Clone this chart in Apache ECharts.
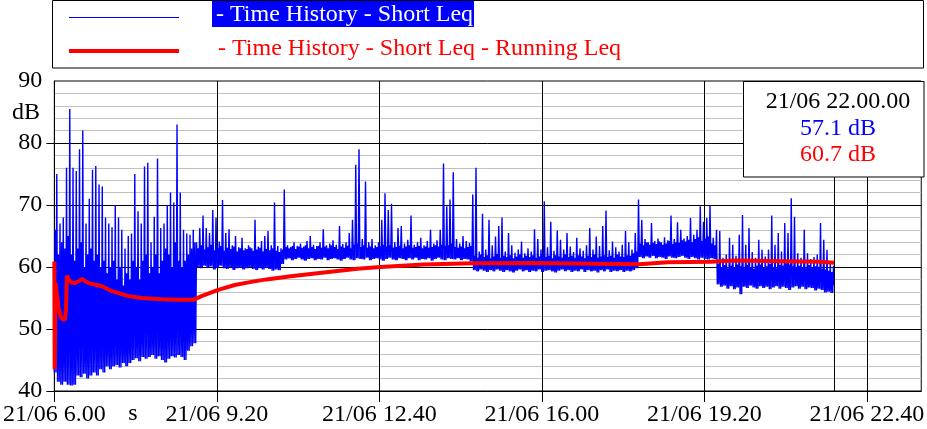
<!DOCTYPE html>
<html><head><meta charset="utf-8">
<script src="https://cdn.jsdelivr.net/npm/echarts@6/dist/echarts.min.js"></script>
<style>html,body{margin:0;padding:0;background:#fff}#c{width:927px;height:429px}</style>
</head><body><div id="c"></div>
<script>
// ---- data (minutes since 21/06 6.00), one entry per 4-minute bucket ----
const bucketMinutes = 4;
// lowest level in each bucket
const blueLow = [
43,41.5,41,41.5,41,40.9,41,42.5,42.2,42.8,
42,42.5,43,42.5,43.5,43,44,43.5,44,44.2,
43.8,44.5,44,44.5,45,45.3,44.8,45.5,45.2,45.5,
45.8,45.2,45.6,45,44.6,45.2,45.6,45.4,45.8,45.5,
45,46.5,47.2,47.7,
60.0,59.8,60.2,59.9,60.1,59.6,59.9,60.2,59.8,59.7,
60.0,59.5,59.8,59.9,59.6,59.8,60.0,59.7,59.5,59.8,
59.6,59.9,59.7,59.4,59.6,59.5,60.5,
61.2,61.4,61.1,61.3,61.5,61.2,61.0,61.3,61.4,61.1,
61.3,61.2,61.5,61.1,61.3,61.4,61.2,61.0,61.3,61.5,
61.2,61.1,61.4,61.3,61.2,61.5,61.1,61.3,61.4,61.2,
61.0,61.3,61.5,61.2,61.1,61.4,61.3,61.1,61.4,61.2,
61.5,61.1,61.3,61.2,61.4,61.0,61.3,61.5,61.2,61.1,
61.4,61.3,61.2,61.4,61.1,61.3,61.2,60.9,
59.5,59.3,59.6,59.4,59.2,59.5,59.3,59.6,59.4,59.2,
59.5,59.3,59.1,59.4,59.6,59.3,59.5,59.2,59.4,59.3,
59.6,59.2,59.4,59.5,59.3,59.1,59.4,59.6,59.3,59.5,
59.2,59.4,59.3,59.6,59.2,59.5,59.3,59.4,59.1,59.5,
59.3,59.6,59.2,59.4,59.3,59.5,59.2,59.4,59.3,59.5,59.8,
61.6,61.4,61.7,61.5,61.8,61.4,61.6,61.5,61.3,61.7,
61.5,61.4,61.6,61.8,61.5,61.3,61.6,61.4,61.2,61.5,
61.3,61.2,61.4,61.3,57.2,
56.8,57.0,56.5,56.9,56.4,56.7,55.6,56.8,56.6,57.0,
56.7,56.5,56.9,56.6,56.8,56.4,56.7,56.9,56.5,56.8,
56.6,56.3,56.7,56.9,56.5,56.8,56.4,56.7,56.6,56.2,
56.5,56.3,55.9,56.0,55.8
];
// top of the dense band in each bucket
const blueTop = [
66,62,64,63,65,62,61,63,64,60,
62,63,61,62,60,61,59,60,61,58,
60,57,59,58,61,60,58,61,62,59,
60,62,59,61,63,62,60,64,61,60,
61,62,63,64,
63,63.5,62.8,63.2,63.6,62.7,63,63.4,62.6,63.1,
62.9,63.3,62.5,63,62.7,62.9,63.2,62.6,62.8,63.1,
62.5,62.9,62.7,63,62.6,62.4,62.8,
63.2,63.0,63.4,62.9,63.3,63.1,63.5,63.0,63.2,62.9,
63.4,63.1,63.3,63.0,63.5,63.2,62.9,63.3,63.1,63.4,
63.0,63.6,63.8,63.2,63.5,63.1,63.3,63.0,63.2,63.4,
63.6,63.3,63.5,63.1,63.2,63.4,63.0,63.3,63.5,63.1,
63.2,63.4,63.0,63.3,63.1,63.2,63.5,63.3,63.6,63.4,
63.5,63.8,63.2,63.1,63.3,63.0,63.2,63.4,
61.8,61.5,62.0,61.6,61.9,61.4,61.7,62.1,61.5,61.8,
61.6,61.9,61.4,61.7,62.0,61.5,61.8,61.6,61.9,61.5,
61.7,62.0,61.6,61.8,61.4,61.9,61.7,61.5,62.0,61.6,
61.8,61.5,61.9,61.7,61.4,61.8,61.6,62.0,61.5,61.7,
61.9,61.6,61.8,61.5,62.0,61.7,61.6,61.9,61.8,62.2,62.5,
63.8,63.5,64.0,63.6,63.9,63.7,64.1,63.6,63.8,64.2,
63.7,64.0,63.9,64.3,64.1,64.4,64.0,64.5,64.8,64.2,
64.6,64.9,63.8,63.5,60.5,
60.0,60.3,59.8,60.2,59.9,60.4,60.1,59.8,60.3,60.0,
59.7,60.2,60.4,59.9,60.1,60.5,60.0,59.8,60.3,60.2,
60.6,60.4,60.1,59.9,60.2,60.0,59.8,60.3,59.9,60.1,
60.0,59.7,59.6,59.4,59.2
];
// highest peak in each bucket
const blueHigh = [
75,67,68,76,85.5,76,75.5,79,82,67,
71,75.7,76.3,73.3,73,68,67,66.4,70,68,
66,63,65,65.4,75,69,67,76.2,76.8,64,
68.1,77.5,66.3,67,70,72,70.4,83,72,66,
65.4,65.2,66,64,
66.3,68.3,66.3,65.5,69.2,68,64.1,70.8,65.5,66.1,
63.5,65,63.2,64.7,63,63.5,63,67.6,63.3,64.2,
65,65.8,63.5,70.4,63.4,63,72.5,
63.5,63.2,64,63.4,63.8,63.3,64.2,65,63.6,63.4,
64,66.1,63.5,63.8,64.3,63.6,66.6,63.7,64,65.5,
67.6,76.5,79,64.5,73.8,64,64.5,63.5,64,67.6,
71.9,69.2,70.2,64,66.3,66.6,63.8,64.4,68.3,63.6,
64,64.7,63.5,64.2,66,63.8,64.3,66,76.7,69.8,
70.9,75.3,64.5,63.8,65,64.2,63.9,71.7,
76,62.5,68.6,62.8,67.6,63.5,64.9,66.6,68,62.5,
65.5,63.5,62.3,62.8,64.1,62.2,63,62.5,66.1,64.5,
62.8,70.6,63.2,67.3,62.6,65.9,64.4,62.8,65.5,63.3,
62.4,64.7,63,62.6,63.5,66.3,62.8,64.9,63.4,66.6,
69.1,62.7,64.1,63.2,62.5,63.6,65.8,64,62.8,65.5,70.9,
67.6,64.5,64,67.1,64.2,64.6,64,64.8,64.3,68.3,
64.5,67.2,66,64.6,65,67.9,65.2,66,69.8,67.3,
67.9,69.9,64.7,66,65.8,
61.5,62,64.7,63.6,61.8,65.2,68.4,63.6,66.3,62.4,
61.5,64.4,62.8,61.7,62.8,68.3,63.6,65.5,62.5,67.1,
65.5,71.1,68.1,62.2,61.5,66,62.2,61.3,61.6,62,
67.1,64.4,62.8,60.5,60.2
];
const blueEnd = [960, 57.1];

const redTimes = [0,0.4,1.6,3.3,5.3,7.7,10,12.9,14.3,15.5,17.6,21,24.5,30.2,34.3,38,42.4,58.8,71,91.4,107.7,132.2,156.7,171,181.2,201.6,222,242.4,261,291,332,373,401.5,454.5,515.7,588,589,720,721,755,756,808,809,838,839,942,943,960];
const redValues = [60.9,43.5,57.4,55.5,53.5,52.0,51.6,51.5,53,58.6,58.0,57.5,57.4,57.7,58.1,57.7,57.4,56.9,56.1,55.3,55.0,54.8,54.7,54.7,55.3,56.3,57.1,57.6,58.0,58.5,59.1,59.7,60.0,60.4,60.6,60.65,60.45,60.45,60.7,60.75,60.85,60.85,61.05,61.05,60.85,60.85,60.65,60.7];

const xTickValues = [0,200,400,600,800,1000];
const xTickLabels = ['21/06 6.00','21/06 9.20','21/06 12.40','21/06 16.00','21/06 19.20','21/06 22.40'];
const yTickValues = [40,50,60,70,80];
const yAxisUnit = 'dB';
const xAxisUnit = 's';
const cursorMinute = 960;
const cursorTime = '21/06 22.00.00';
const cursorBlue = '57.1 dB';
const cursorRed = '60.7 dB';
const seriesNames = ['- Time History - Short Leq', '- Time History - Short Leq - Running Leq'];

// ---- build ----
const blueData = [];
const q = bucketMinutes / 4;
for (let i = 0; i < blueLow.length; i++) {
  const t = i * bucketMinutes;
  blueData.push([t, blueLow[i]]);
  blueData.push([t + q, blueTop[i]]);
  blueData.push([t + 2 * q, blueLow[i]]);
  blueData.push([t + 3 * q, blueHigh[i]]);
}
blueData.push(blueEnd);
const redData = redTimes.map((t, i) => [t, redValues[i]]);

const FONT = '"Liberation Serif","Times New Roman",serif';
const chart = echarts.init(document.getElementById('c'), null, {renderer: 'canvas'});
chart.setOption({
  animation: false,
  backgroundColor: '#fff',
  grid: {left: 52, right: 3, top: 81, bottom: 38, show: true, borderColor: '#000', borderWidth: 1, backgroundColor: 'rgba(0,0,0,0)'},
  xAxis: {
    type: 'value', min: 0, max: 1067, interval: 200,
    axisLine: {show: true, onZero: false, lineStyle: {color: '#000', width: 1}},
    axisTick: {show: true, length: 11, customValues: xTickValues, lineStyle: {color: '#000', width: 1}},
    axisLabel: {customValues: xTickValues, formatter: v => xTickLabels[xTickValues.indexOf(v)] || '', color: '#000', fontFamily: FONT, fontSize: 24, margin: 12, showMaxLabel: true, showMinLabel: true},
    splitLine: {show: true, lineStyle: {color: '#000', width: 1}}
  },
  yAxis: {
    type: 'value', min: 40, max: 90, interval: 10,
    axisLine: {show: true, lineStyle: {color: '#000', width: 1}},
    axisTick: {show: true, length: 8, customValues: yTickValues, lineStyle: {color: '#000', width: 1}},
    axisLabel: {color: '#000', fontFamily: FONT, fontSize: 24, margin: 12},
    splitLine: {show: true, lineStyle: {color: '#000', width: 1}},
    minorTick: {show: false, splitNumber: 5},
    minorSplitLine: {show: true, lineStyle: {color: '#c0c0c0', width: 1}}
  },
  series: [
    {name: seriesNames[0], type: 'line', data: blueData, symbol: 'none', lineStyle: {color: '#0000ff', width: 1.4}, itemStyle: {color: '#0000ff'}, z: 2,
     markLine: {silent: true, symbol: ['none','none'], label: {show: false}, lineStyle: {color: '#000', width: 1, type: 'solid'}, data: [{xAxis: cursorMinute}]}},
    {name: seriesNames[1], type: 'line', data: redData, symbol: 'none', lineStyle: {color: '#ff0000', width: 4}, itemStyle: {color: '#ff0000'}, z: 3}
  ],
  graphic: [
    {type: 'rect', z: 100, shape: {x: 52.5, y: 0.5, width: 871, height: 67.5}, style: {fill: '#fff', stroke: '#000', lineWidth: 1}},
    {type: 'line', z: 101, shape: {x1: 69, y1: 17.5, x2: 179, y2: 17.5}, style: {stroke: '#0000ff', lineWidth: 1}},
    {type: 'line', z: 101, shape: {x1: 69, y1: 51, x2: 179, y2: 51}, style: {stroke: '#ff0000', lineWidth: 4}},
    {type: 'rect', z: 101, shape: {x: 212, y: 1, width: 262, height: 26}, style: {fill: '#0000ff'}},
    {type: 'text', z: 102, x: 216, y: 15, style: {text: seriesNames[0], fill: '#fff', font: '24px ' + FONT, textVerticalAlign: 'middle'}},
    {type: 'text', z: 102, x: 218, y: 49, style: {text: seriesNames[1], fill: '#ff0000', font: '24px ' + FONT, textVerticalAlign: 'middle'}},
    {type: 'rect', z: 100, shape: {x: 743.5, y: 81.5, width: 180.5, height: 95.5}, style: {fill: '#fff', stroke: '#000', lineWidth: 1}},
    {type: 'text', z: 102, x: 838, y: 102, style: {text: cursorTime, fill: '#000', font: '24px ' + FONT, textAlign: 'center', textVerticalAlign: 'middle'}},
    {type: 'text', z: 102, x: 838, y: 129, style: {text: cursorBlue, fill: '#0000ff', font: '24px ' + FONT, textAlign: 'center', textVerticalAlign: 'middle'}},
    {type: 'text', z: 102, x: 838, y: 155, style: {text: cursorRed, fill: '#ff0000', font: '24px ' + FONT, textAlign: 'center', textVerticalAlign: 'middle'}},
    {type: 'text', z: 102, x: 40, y: 113, style: {text: yAxisUnit, fill: '#000', font: '24px ' + FONT, textAlign: 'right', textVerticalAlign: 'middle'}},
    {type: 'text', z: 102, x: 133, y: 414, style: {text: xAxisUnit, fill: '#000', font: '24px ' + FONT, textAlign: 'center', textVerticalAlign: 'middle'}}
  ]
});
</script>
</body></html>
